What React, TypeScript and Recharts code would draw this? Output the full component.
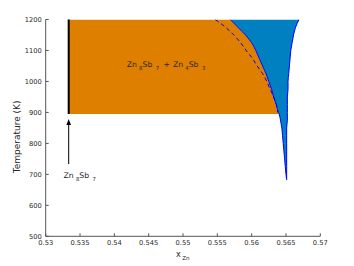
import React from 'react'
import { ComposedChart, Area, Line, XAxis, YAxis, ReferenceLine, ReferenceDot } from 'recharts'

const temps = [1200, 1175, 1150, 1125, 1100, 1075, 1050, 1025, 1000, 975, 950, 925, 900, 895, 875, 850, 825, 800, 775, 750, 725, 700, 683]
// left (solid) edge of the blue single-phase field
const leftBoundary = [0.5569, 0.558, 0.5591, 0.56, 0.5606, 0.5611, 0.5616, 0.5621, 0.5625, 0.5629, 0.5632, 0.5636, 0.5639, 0.564, 0.5642, 0.5644, 0.5645, 0.5646, 0.5647, 0.5648, 0.5649, 0.565, 0.5651]
// right (solid) edge of the blue field
const rightBoundary = [0.5669, 0.5664, 0.5661, 0.5659, 0.5657, 0.5656, 0.5655, 0.5654, 0.5653, 0.5653, 0.5652, 0.5652, 0.5652, 0.5652, 0.5652, 0.5651, 0.5651, 0.5651, 0.5651, 0.5651, 0.5651, 0.5651, 0.5651]
// dashed boundary
const dashedBoundary = [0.5547, 0.5562, 0.5574, 0.5584, 0.5592, 0.5601, 0.5608, 0.5616, 0.5622, 0.5627, 0.5632, 0.5636, 0.5638, null, null, null, null, null, null, null, null, null, null]

const zn8sb7X = 0.53335
const twoPhaseBottom = 895
const arrowFrom = 733
const arrowTo = 879

const xTicks = [0.53, 0.535, 0.54, 0.545, 0.55, 0.555, 0.56, 0.565, 0.57]
const yTicks = [500, 600, 700, 800, 900, 1000, 1100, 1200]

const ORANGE = '#df7f00'
const BLUE_FILL = '#0080c0'
const BLUE_LINE = '#0000ff'
const AXIS = '#555'
const TEXT = '#262626'
const FONT = 'DejaVu Sans'

const data = temps.map((T, i) => ({
  T,
  left: leftBoundary[i],
  right: rightBoundary[i],
  dashed: dashedBoundary[i],
  blue: [leftBoundary[i], rightBoundary[i]],
  orange: T >= twoPhaseBottom ? [zn8sb7X, leftBoundary[i]] : null,
}))

type Part = { t: string; sub?: boolean; dx?: number }

function Formula({ x, y, parts, size = 7.7 }: { x: number; y: number; parts: Part[]; size?: number }) {
  return (
    <text x={x} y={y} fontFamily={FONT} fontSize={size} fill={TEXT}>
      {parts.map((p, i) => {
        const prevSub = i > 0 && parts[i - 1].sub
        const dy = p.sub && !prevSub ? 3 : !p.sub && prevSub ? -3 : 0
        return (
          <tspan key={i} dx={p.dx ?? 0} dy={dy} fontSize={p.sub ? size * 0.7 : size}>
            {p.t}
          </tspan>
        )
      })}
    </text>
  )
}

const mixLabel: Part[] = [
  { t: 'Zn' },
  { t: '8', sub: true, dx: 2.2 },
  { t: 'Sb' },
  { t: '7', sub: true, dx: 3.5 },
  { t: '+', dx: 4.2 },
  { t: 'Zn', dx: 3 },
  { t: '4', sub: true, dx: 2.2 },
  { t: 'Sb' },
  { t: '3', sub: true, dx: 3.5 },
]

const phaseLabel: Part[] = [
  { t: 'Zn' },
  { t: '8', sub: true, dx: 2.2 },
  { t: 'Sb' },
  { t: '7', sub: true, dx: 3.5 },
]

export default function App() {
  return (
    <div style={{ position: 'absolute', left: 0, top: 0, background: '#fff' }}>
      <ComposedChart
        width={354}
        height={266}
        data={data}
        layout="vertical"
        margin={{ top: 19.5, right: 33.7, bottom: 0, left: 0 }}
      >
        <XAxis
          type="number"
          dataKey="left"
          domain={[0.53, 0.57]}
          ticks={xTicks}
          allowDataOverflow
          height={29.7}
          stroke={AXIS}
          tickSize={-3}
          tickMargin={7}
          tick={{ fontSize: 6.7, fill: TEXT, fontFamily: FONT }}
          label={{
            content: ({ viewBox }: any) => (
              <Formula
                x={viewBox.x + viewBox.width / 2 - 7}
                y={257}
                size={8}
                parts={[{ t: 'x' }, { t: 'Zn', sub: true, dx: 1.5 }]}
              />
            ),
          }}
        />
        <XAxis
          xAxisId="top"
          orientation="top"
          type="number"
          domain={[0.53, 0.57]}
          ticks={xTicks}
          allowDataOverflow
          height={0}
          stroke={AXIS}
          tickSize={-3}
          tickFormatter={() => ''}
        />
        <YAxis
          type="number"
          dataKey="T"
          domain={[500, 1200]}
          ticks={yTicks}
          reversed
          allowDataOverflow
          width={45.7}
          stroke={AXIS}
          tickSize={-3}
          tickMargin={7}
          tick={{ fontSize: 6.7, fill: TEXT, fontFamily: FONT }}
          label={{
            value: 'Temperature (K)',
            angle: -90,
            position: 'insideLeft',
            offset: 17,
            dy: 9,
            style: { textAnchor: 'middle', fontSize: 9, fill: TEXT, fontFamily: FONT },
          }}
        />
        <YAxis
          yAxisId="right"
          orientation="right"
          type="number"
          dataKey="T"
          domain={[500, 1200]}
          ticks={yTicks}
          reversed
          allowDataOverflow
          width={0}
          stroke={AXIS}
          tickSize={-3}
          tickFormatter={() => ''}
        />

        <Area
          dataKey="orange"
          type="monotoneY"
          fill={ORANGE}
          fillOpacity={1}
          stroke="none"
          isAnimationActive={false}
        />
        <Area
          dataKey="blue"
          type="monotoneY"
          fill={BLUE_FILL}
          fillOpacity={1}
          stroke="none"
          isAnimationActive={false}
        />
        <Line dataKey="left" type="monotoneY" stroke={BLUE_LINE} strokeWidth={1} dot={false} isAnimationActive={false} />
        <Line dataKey="right" type="monotoneY" stroke={BLUE_LINE} strokeWidth={1} dot={false} isAnimationActive={false} />
        <Line
          dataKey="dashed"
          type="monotoneY"
          stroke={BLUE_LINE}
          strokeWidth={1}
          strokeDasharray="4 3"
          dot={false}
          isAnimationActive={false}
        />

        <ReferenceLine
          segment={[
            { x: zn8sb7X, y: twoPhaseBottom },
            { x: zn8sb7X, y: 1200 },
          ]}
          stroke="#000"
          strokeWidth={2}
        />
        <ReferenceLine
          segment={[
            { x: zn8sb7X, y: arrowFrom },
            { x: zn8sb7X, y: arrowTo },
          ]}
          shape={(p: any) => (
            <g>
              <line x1={p.x1} y1={p.y1} x2={p.x2} y2={p.y2 + 5} stroke="#000" strokeWidth={1} />
              <polygon points={`${p.x2},${p.y2} ${p.x2 - 2.3},${p.y2 + 6} ${p.x2 + 2.3},${p.y2 + 6}`} fill="#000" />
            </g>
          )}
        />

        <ReferenceDot
          x={0.54181}
          y={1046}
          r={0}
          shape={(p: any) => <Formula x={p.cx} y={p.cy} parts={mixLabel} />}
        />
        <ReferenceDot
          x={0.5326}
          y={689}
          r={0}
          shape={(p: any) => <Formula x={p.cx} y={p.cy} parts={phaseLabel} />}
        />
      </ComposedChart>
    </div>
  )
}
